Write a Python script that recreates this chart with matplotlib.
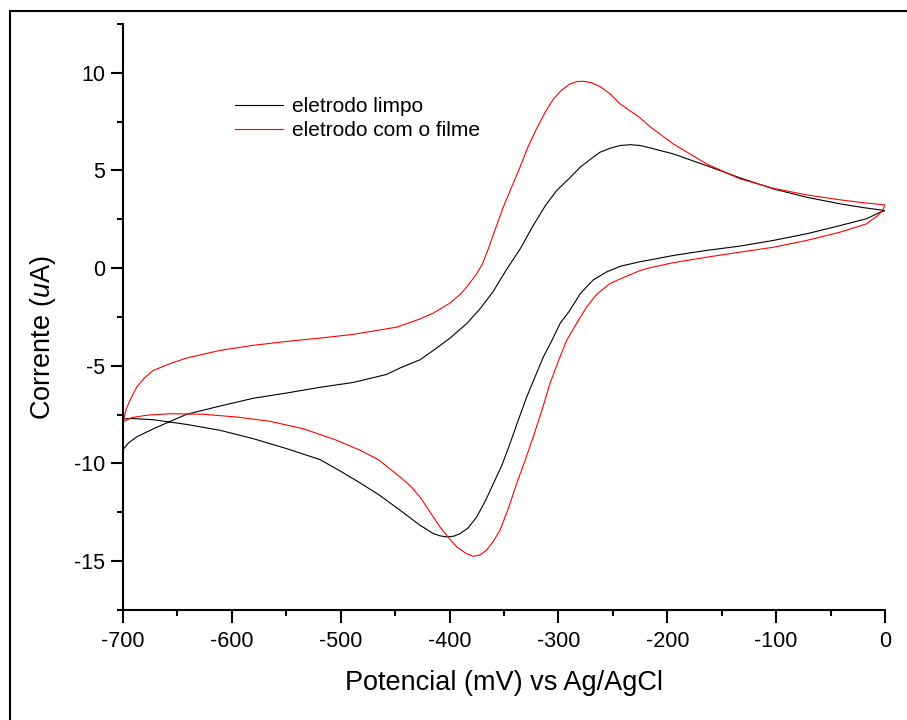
import matplotlib
matplotlib.use("Agg")
import matplotlib.pyplot as plt
from matplotlib.patches import Rectangle
from matplotlib.ticker import MultipleLocator

plt.rcParams["font.family"] = ["Liberation Sans", "DejaVu Sans"]
plt.rcParams["mathtext.fontset"] = "custom"
plt.rcParams["mathtext.rm"] = "Liberation Sans"
plt.rcParams["mathtext.it"] = "Liberation Sans:italic"
plt.rcParams["axes.unicode_minus"] = False

# eletrodo limpo: forward scan (-700 -> 0) then reverse (0 -> -700)
limpo_x = [-700, -695, -687.5, -672, -656, -641.5, -610.9, -580.3, -549.6, -519,
           -488.4, -457.8, -445.5, -427.2, -414.9, -400, -384.3, -372, -360, -348,
           -335, -323, -312, -301.7, -290, -280, -270, -262, -252, -243, -234, -225,
           -216, -194.5, -164, -133, -102.6, -72, -41, -20, 0,
           -4.6, -17, -41.4, -72, -102.6, -133.2, -163.9, -194.5, -216, -225,
           -243, -256, -268, -280, -290, -298.6, -306, -313.9, -321, -329.2,
           -337, -344.5, -352, -359.8, -367, -375.1, -383, -390.4, -396, -402.7,
           -409, -414.9, -427.2, -445.5, -465, -482, -500, -519, -549.6, -580.3,
           -610.9, -641.5, -672, -690, -700]
limpo_y = [-9.29, -8.95, -8.64, -8.22, -7.83, -7.48, -7.06, -6.66, -6.39, -6.10,
           -5.85, -5.44, -5.11, -4.69, -4.21, -3.6, -2.84, -2.08, -1.2, -0.1,
           1.0, 2.2, 3.2, 3.97, 4.6, 5.17, 5.6, 5.93, 6.15, 6.28, 6.32, 6.28,
           6.16, 5.85, 5.25, 4.62, 4.06, 3.63, 3.29, 3.1, 2.95,
           2.86, 2.53, 2.18, 1.76, 1.42, 1.13, 0.91, 0.65, 0.42, 0.33,
           0.1, -0.2, -0.6, -1.31, -2.2, -2.84, -3.7, -4.55, -5.5, -6.6,
           -7.8, -8.98, -10.1, -11.03, -11.9, -12.74, -13.3, -13.59, -13.72, -13.76,
           -13.7, -13.59, -13.16, -12.39, -11.6, -11.0, -10.4, -9.8, -9.24, -8.73,
           -8.3, -8.0, -7.76, -7.7, -7.72]

# eletrodo com o filme
filme_x = [-700, -697, -693, -687.4, -680, -672, -656.8, -641.5, -610.9, -580.3,
           -549.6, -519, -490, -470, -448.6, -427.2, -414.9, -400, -390.4, -384.3,
           -375.1, -370, -365, -358, -350.7, -343, -335.3, -328, -320, -312,
           -304.7, -297, -289.4, -283, -277.2, -270, -261.8, -252, -243.4, -225,
           -216, -194.5, -163.9, -133.2, -102.6, -72, -41.4, -20, 0,
           -2, -6, -17, -41.4, -72, -102.6, -133.2, -163.9, -194.5, -216,
           -225, -246.6, -253, -265, -274.1, -283, -292.5, -300, -307.8, -315,
           -323.1, -331, -338.4, -346, -353.7, -360, -366, -372, -378.2, -385,
           -393.5, -400, -408.8, -418, -427.2, -436, -445.5, -465.5, -482.3, -503.7,
           -534.4, -565, -595.6, -626.2, -656.8, -678.3, -692, -700]
filme_y = [-7.87, -7.2, -6.7, -6.09, -5.6, -5.23, -4.89, -4.6, -4.21, -3.95,
           -3.75, -3.58, -3.4, -3.22, -3.02, -2.6, -2.3, -1.8, -1.35, -0.97,
           -0.29, 0.2, 0.9, 2.0, 3.12, 4.15, 5.17, 6.2, 7.15, 8.0,
           8.65, 9.12, 9.43, 9.55, 9.57, 9.5, 9.3, 8.9, 8.41, 7.7,
           7.25, 6.36, 5.34, 4.57, 4.09, 3.75, 3.5, 3.35, 3.24,
           3.0, 2.72, 2.27, 1.84, 1.42, 1.07, 0.82, 0.56, 0.28, 0.02,
           -0.12, -0.63, -0.8, -1.35, -1.99, -2.8, -3.7, -4.75, -5.91, -7.25,
           -8.64, -9.9, -11.03, -12.3, -13.42, -14.0, -14.44, -14.68, -14.75, -14.6,
           -14.27, -13.85, -13.25, -12.48, -11.71, -11.15, -10.69, -9.8, -9.32, -8.81,
           -8.22, -7.84, -7.62, -7.48, -7.45, -7.53, -7.65, -7.87]

labels = ["eletrodo limpo", "eletrodo com o filme"]

fig = plt.figure(figsize=(9.07, 7.2), dpi=100)
ax = fig.add_axes([123 / 907, 1 - 610 / 720, 762 / 907, 586 / 720])

ax.plot(limpo_x, limpo_y, color="black", lw=0.8, label=labels[0])
ax.plot(filme_x, filme_y, color="#ff0000", lw=0.8, label=labels[1])

ax.set_xlim(-700, 0)
ax.set_ylim(-17.5, 12.5)
ax.xaxis.set_major_locator(MultipleLocator(100))
ax.xaxis.set_minor_locator(MultipleLocator(50))
ax.yaxis.set_major_locator(MultipleLocator(5))
ax.yaxis.set_minor_locator(MultipleLocator(2.5))

for s in ["top", "right"]:
    ax.spines[s].set_visible(False)
for s in ["left", "bottom"]:
    ax.spines[s].set_linewidth(1.5)

ax.tick_params(which="major", direction="out", length=9, width=1.5, labelsize=15.5)
ax.tick_params(which="minor", direction="out", length=4.5, width=1.5)
ax.tick_params(axis="x", which="major", pad=6)
ax.tick_params(axis="y", which="major", pad=4)

ax.set_xlabel("Potencial (mV) vs Ag/AgCl", fontsize=19.5)
ax.set_ylabel(r"Corrente ($\mathit{u}$A)", fontsize=19.5)
ax.xaxis.set_label_coords(0.5, -0.103)
ax.yaxis.set_label_coords(-0.085, 0.465)

ax.legend(loc="upper left", bbox_to_anchor=(0.147, 0.875), frameon=False,
          fontsize=15, handlelength=2.3, handletextpad=0.45, labelspacing=0.22,
          borderaxespad=0, borderpad=0)

# outer frame, cut off at right and bottom
fig.patches.append(Rectangle((9.5 / 907, -0.1), 1.2, 1.1 - 10.5 / 720,
                             transform=fig.transFigure, fill=False,
                             lw=1.5, edgecolor="black"))

fig.savefig("out.png", dpi=100)
